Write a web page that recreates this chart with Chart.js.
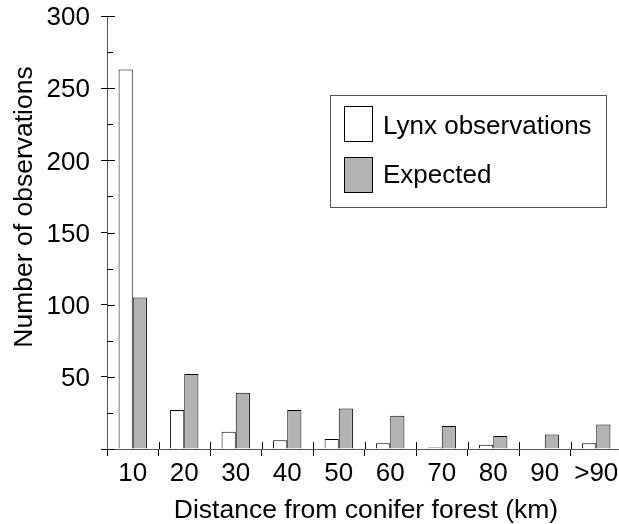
<!DOCTYPE html>
<html><head><meta charset="utf-8">
<script src="https://cdn.jsdelivr.net/npm/chart.js@4"></script>
<style>html,body{margin:0;padding:0;background:#fff;overflow:hidden;width:619px;height:524px}canvas{display:block}</style>
</head><body>
<canvas id="c" width="622" height="524" style="width:622px;height:524px"></canvas>
<script>
const categories = ['10','20','30','40','50','60','70','80','90','>90'];
const lynxObserved = [263, 27, 12, 6, 7, 4, 1, 3, 0, 4];
const expectedCounts = [105, 52, 39, 27, 28, 23, 16, 9, 10, 17];
const yMinorValues = [25, 75, 125, 175, 225, 275];
const seriesNames = ['Lynx observations', 'Expected'];
const xTitle = 'Distance from conifer forest (km)';
const yTitle = 'Number of observations';

const FONT = '"Liberation Sans", Arial, Helvetica, sans-serif';
const AXIS_COLOR = '#555';

const decor = {
  id: 'decor',
  afterDraw(chart) {
    const ctx = chart.ctx;
    const xs = chart.scales.x, ys = chart.scales.y;
    const left = chart.chartArea.left, bottom = chart.chartArea.bottom;
    ctx.save();
    ctx.strokeStyle = '#000';
    ctx.lineWidth = 1;
    ys.ticks.forEach(t => {
      const y = Math.round(ys.getPixelForValue(t.value)) + 0.5;
      ctx.beginPath(); ctx.moveTo(left, y); ctx.lineTo(left + 8, y); ctx.stroke();
    });
    yMinorValues.forEach(v => {
      const y = Math.round(ys.getPixelForValue(v)) + 0.5;
      ctx.beginPath(); ctx.moveTo(left, y); ctx.lineTo(left + 6, y); ctx.stroke();
    });
    for (let i = 1; i < categories.length; i++) {
      const x = Math.round(xs.getPixelForValue(i - 0.5)) + 0.5;
      ctx.beginPath(); ctx.moveTo(x, bottom); ctx.lineTo(x, bottom - 7); ctx.stroke();
    }
    ctx.fillStyle = '#000';
    ctx.font = '26.5px ' + FONT;
    ctx.textAlign = 'center';
    ctx.textBaseline = 'alphabetic';
    ctx.fillText(xTitle, 366, 518);
    ctx.save();
    ctx.translate(32, 207);
    ctx.rotate(-Math.PI / 2);
    ctx.fillText(yTitle, 0, 0);
    ctx.restore();
    ctx.strokeStyle = AXIS_COLOR;
    ctx.strokeRect(330.5, 95.5, 276, 112);
    const rows = [106.5, 157.5];
    const baselines = [134, 183];
    chart.data.datasets.forEach((ds, i) => {
      ctx.fillStyle = ds.backgroundColor;
      ctx.fillRect(344.5, rows[i], 28, 35);
      ctx.strokeStyle = '#000';
      ctx.strokeRect(344.5, rows[i], 28, 35);
      ctx.fillStyle = '#000';
      ctx.textAlign = 'left';
      ctx.font = '26px ' + FONT;
      ctx.fillText(ds.label, 383, baselines[i]);
    });
    ctx.restore();
  }
};

new Chart(document.getElementById('c'), {
  type: 'bar',
  data: {
    labels: categories,
    datasets: [
      { label: seriesNames[0], data: lynxObserved, backgroundColor: '#ffffff', borderColor: '#000',
        borderWidth: c => (c.raw === 0 ? 0 : 1), borderSkipped: 'start' },
      { label: seriesNames[1], data: expectedCounts, backgroundColor: '#b3b3b3', borderColor: '#000',
        borderWidth: 1, borderSkipped: 'start' }
    ]
  },
  options: {
    responsive: false,
    animation: false,
    devicePixelRatio: 1,
    layout: { padding: { top: 16, left: 0, right: 0, bottom: 0 } },
    datasets: { bar: { categoryPercentage: 0.55, barPercentage: 1.0 } },
    plugins: { legend: { display: false }, tooltip: { enabled: false } },
    scales: {
      x: {
        offset: true,
        grid: { display: true, drawOnChartArea: false, drawTicks: true, tickLength: 7, color: '#000', offset: true },
        border: { display: true, color: AXIS_COLOR, width: 1 },
        ticks: { color: '#000', font: { size: 26, family: FONT }, padding: 2, maxRotation: 0, autoSkip: false },
        afterFit(s) { s.height = 75; s.paddingLeft = 0; s.paddingRight = 0; }
      },
      y: {
        min: 0, max: 300,
        grid: { display: true, drawOnChartArea: false, drawTicks: true, tickLength: 6, color: '#000' },
        border: { display: true, color: AXIS_COLOR, width: 1 },
        ticks: { stepSize: 50, color: '#000', font: { size: 26, family: FONT }, padding: 11, labelOffset: 2,
                 callback: v => (v === 0 ? '' : v) },
        afterFit(s) { s.width = 107; s.paddingTop = 0; s.paddingBottom = 0; }
      }
    }
  },
  plugins: [decor]
});
</script>
</body></html>
